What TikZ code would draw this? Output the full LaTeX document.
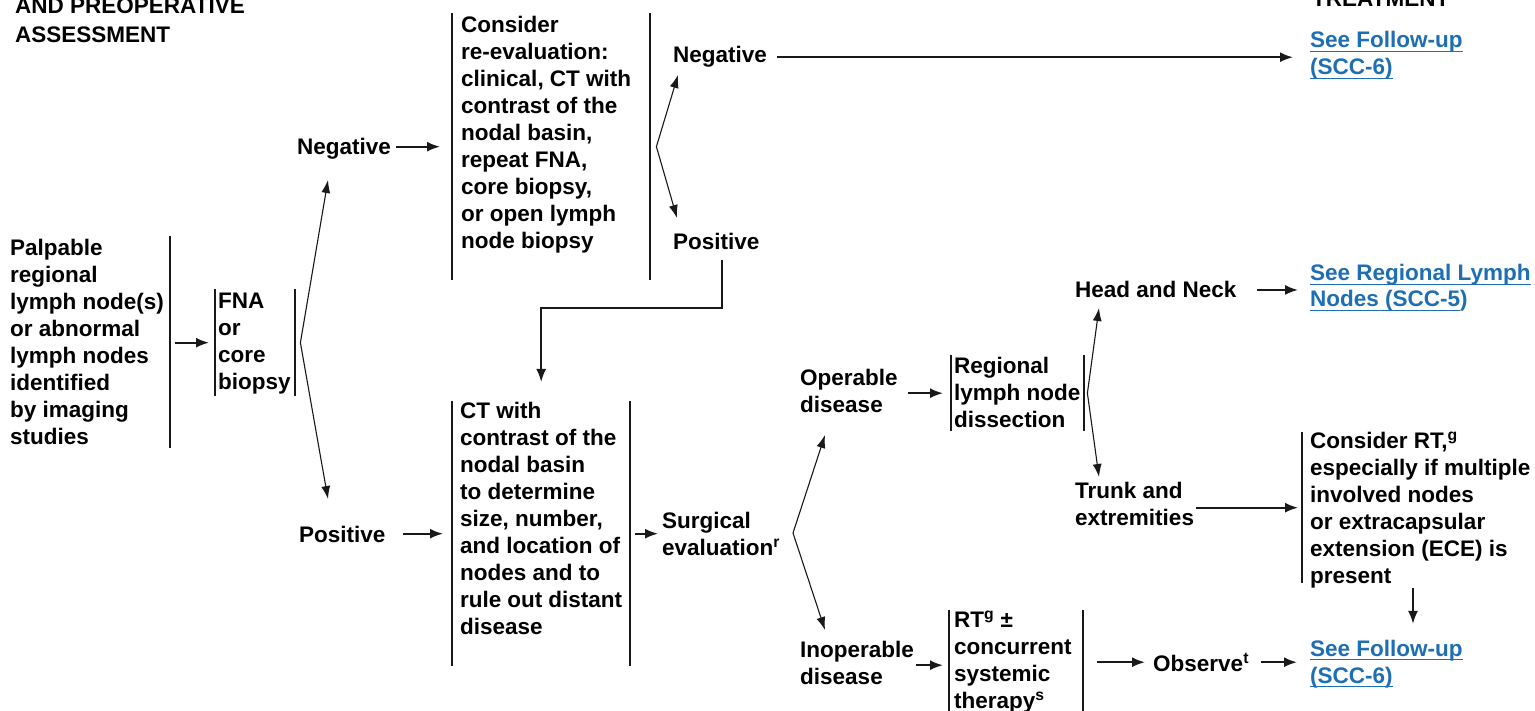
\documentclass[tikz,border=0pt]{standalone}
\usepackage{fontspec}
\setmainfont{Liberation Sans}
\usetikzlibrary{arrows.meta,calc}
\definecolor{lk}{RGB}{30,110,180}
\definecolor{ln}{RGB}{25,25,25}
\newcommand\ulk[1]{\setbox0\hbox{#1}\rlap{\rule[-4pt]{\wd0}{1.4pt}}\box0}
\newcommand\ulkp[2]{\setbox0\hbox{#1}\setbox2\hbox{#1#2}\rlap{\rule[-4pt]{\wd0}{1.4pt}}\box2}
\newcommand\bxt[4]{\parbox[c][#1][t]{#2}{\raggedright\rule{0pt}{#3}#4}}
\newcommand\ml[1]{\begin{tabular}[t]{@{}l@{}}#1\end{tabular}}
\tikzset{
  every node/.style={inner sep=0pt, font=\fontsize{22.5}{27}\selectfont\bfseries, text=black},
  barline/.style={draw=ln, line width=1.9pt},
  rbar/.style={append after command={(\tikzlastnode.north east) edge[barline] (\tikzlastnode.south east)}},
  lbar/.style={append after command={(\tikzlastnode.north west) edge[barline] (\tikzlastnode.south west)}},
  bx/.style={anchor=north west},
  arr/.style={draw=ln, line width=1.9pt, -{Latex[length=13pt,width=10pt]}},
  fork/.style={draw=ln, line width=1.1pt, {Latex[length=13pt,width=9pt]}-{Latex[length=13pt,width=9pt]}},
  lbl/.style={anchor=base west},
  link/.style={anchor=base west, text=lk},
}
\begin{document}
\begin{tikzpicture}[x=1pt,y=-1pt]
\useasboundingbox (0,0) rectangle (1535,711);
\clip (0,0) rectangle (1535,711);

% headings (cut off at the top edge, as in the reference)
\node[lbl] (title) at (15,14) {\ml{AND PREOPERATIVE\\[2pt]ASSESSMENT}};
\node[lbl] (trt) at (1312,7) {TREATMENT};

% bracketed boxes
\node[bx,rbar] (pal) at (10,236) {\bxt{212pt}{160pt}{19pt}{Palpable\\regional\\lymph node(s)\\or abnormal\\lymph nodes\\identified\\by imaging\\studies}};
\node[bx,lbar,rbar,inner xsep=3pt] (fna) at (215,289) {\bxt{107pt}{74pt}{19pt}{FNA\\or\\core\\biopsy}};
\node[bx,lbar,rbar,inner xsep=9pt] (cons) at (452,13) {\bxt{267pt}{180pt}{19pt}{Consider\\re-evaluation:\\clinical, CT with\\contrast of the\\nodal basin,\\repeat FNA,\\core biopsy,\\or open lymph\\node biopsy}};
\node[bx,lbar,rbar,inner xsep=8pt] (ct) at (452,401) {\bxt{265pt}{162pt}{17pt}{CT with\\contrast of the\\nodal basin\\to determine\\size, number,\\and location of\\nodes and to\\rule out distant\\disease}};
\node[bx,lbar,rbar,inner xsep=3pt] (rld) at (951,355) {\bxt{76pt}{127pt}{18pt}{Regional\\lymph node\\dissection}};
\node[bx,lbar,rbar,inner xsep=5pt] (rt) at (949,610) {\bxt{110pt}{124pt}{17pt}{RT\textsuperscript{g} ±\\concurrent\\systemic\\therapy\textsuperscript{s}}};
\node[bx,lbar,inner xsep=8pt] (crt) at (1302,432) {\bxt{151pt}{222pt}{15pt}{Consider RT,\textsuperscript{g}\\especially if multiple\\involved nodes\\or extracapsular\\extension (ECE) is\\present}};

% labels
\node[lbl] (neg1) at (297,155) {Negative};
\node[lbl] (pos1) at (299,542) {Positive};
\node[lbl] (neg2) at (673,63) {Negative};
\node[lbl] (pos2) at (673,250) {Positive};
\node[lbl] (surg) at (662,528) {\ml{Surgical\\evaluation\textsuperscript{r}}};
\node[lbl] (oper) at (800,386) {\ml{Operable\\disease}};
\node[lbl] (inop) at (800,657) {\ml{Inoperable\\disease}};
\node[lbl] (hn) at (1075,298) {Head and Neck};
\node[lbl] (trunk) at (1075,498) {\ml{Trunk and\\extremities}};
\node[lbl] (obs) at (1153,671) {Observe\textsuperscript{t}};

% links
\node[link] (fu1) at (1310,48) {\ml{\ulk{See Follow-up}\\\ulk{(SCC-6)}}};
\node[link] (srl) at (1310,281) {\ml{\ulk{See Regional Lymph}\\[-1pt]\ulkp{Nodes \char"0028 SCC-5}{\char"0029\relax}}};
\node[link] (fu2) at (1310,656) {\ml{\ulk{See Follow-up}\\\ulk{(SCC-6)}}};

% forks
\coordinate (a1) at ([xshift=5pt]fna.east);
\draw[fork] ([shift={(31,25)}]neg1.base west) -- (a1) -- ([shift={(29,-43)}]pos1.base west);
\coordinate (a2) at ([xshift=6pt]cons.east);
\draw[fork] ([shift={(5,12)}]neg2.base west) -- (a2) -- ([shift={(4,-32)}]pos2.base west);
\coordinate (a3) at ([shift={(131,5)}]surg.base west);
\draw[fork] ([shift={(25,49)}]oper.base west) -- (a3) -- ([shift={(25,-27)}]inop.base west);
\coordinate (a4) at ([xshift=3pt]rld.east);
\draw[fork] ([shift={(24,10)}]hn.base west) -- (a4) -- ([shift={(24,-21)}]trunk.base west);

% arrows
\draw[arr,shorten <=5pt,shorten >=6pt] (fna.west -| pal.east) -- (fna.west);
\draw[arr,shorten <=5pt,shorten >=12pt] (cons.west -| neg1.east) -- (cons.west);
\draw[arr,shorten <=17pt,shorten >=9pt] (ct.west -| pos1.east) -- (ct.west);
\draw[arr,shorten <=10pt,shorten >=17pt] (neg2.east) -- (neg2.east -| fu1.west);
\draw[arr,shorten >=19pt] ([shift={(49,10)}]pos2.base west) -- ++(0,48) -| (ct.north);
\draw[arr,shorten <=5pt,shorten >=4pt] (ct.east) -- (ct.east -| surg.west);
\draw[arr,shorten <=10pt,shorten >=8pt] (rld.west -| oper.east) -- (rld.west);
\draw[arr,shorten <=2pt,shorten >=6pt] (rt.west -| inop.east) -- (rt.west);
\draw[arr,shorten <=20pt,shorten >=12pt] (hn.east) -- (hn.east -| srl.west);
\draw[arr,shorten <=2pt,shorten >=4pt] (crt.west -| trunk.east) -- (crt.west);
\draw[arr,shorten <=14pt,shorten >=8pt] (obs.west -| rt.east) -- (obs.west);
\draw[arr,shorten <=12pt,shorten >=13pt] (obs.east) -- (obs.east -| fu2.west);
\coordinate (c1) at ([shift={(111,5)}]crt.south west);
\draw[arr,shorten >=13pt] (c1) -- (c1 |- fu2.north);
\end{tikzpicture}
\end{document}
